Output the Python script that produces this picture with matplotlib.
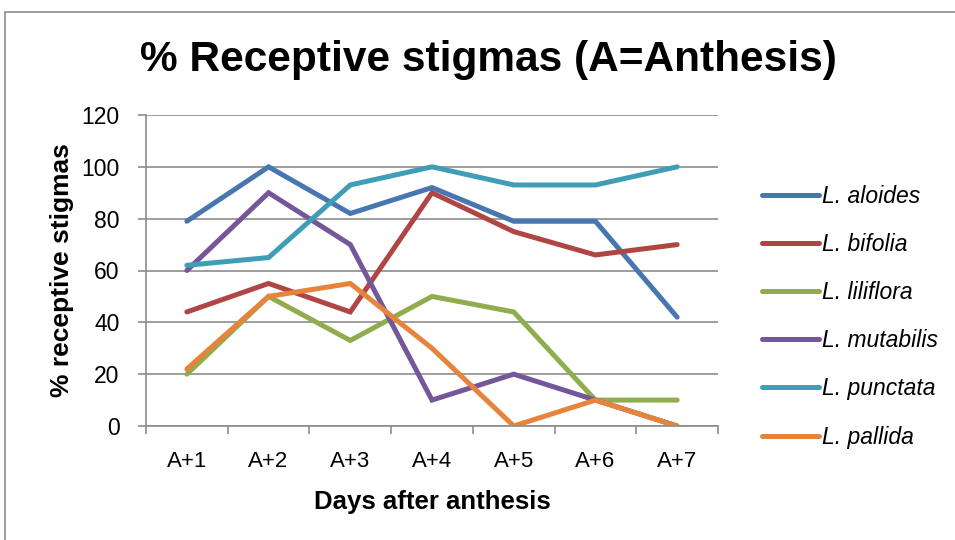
import matplotlib
matplotlib.use("Agg")
import matplotlib.pyplot as plt
from matplotlib.patches import Rectangle

plt.rcParams['font.family'] = ['Liberation Sans', 'DejaVu Sans']

days = ["A+1", "A+2", "A+3", "A+4", "A+5", "A+6", "A+7"]
species = ["L. aloides", "L. bifolia", "L. liliflora", "L. mutabilis", "L. punctata", "L. pallida"]
aloides = [79, 100, 82, 92, 79, 79, 42]
bifolia = [44, 55, 44, 90, 75, 66, 70]
liliflora = [20, 50, 33, 50, 44, 10, 10]
mutabilis = [60, 90, 70, 10, 20, 10, 0]
punctata = [62, 65, 93, 100, 93, 93, 100]
pallida = [22, 50, 55, 30, 0, 10, 0]
y_ticks = [0, 20, 40, 60, 80, 100, 120]

series = [aloides, bifolia, liliflora, mutabilis, punctata, pallida]
colors = ["#4776B0", "#B04643", "#8FAD4C", "#735799", "#409DB6", "#E6843C"]

W, H = 955, 540
fig = plt.figure(figsize=(W / 100, H / 100), dpi=100)
fig.patch.set_facecolor("white")

# outer chart frame
fig.patches.append(Rectangle((5 / W, -0.1), 1.2, 1 - 12 / H + 0.1,
                             transform=fig.transFigure, fill=False,
                             edgecolor="#8C8C8C", linewidth=1.2))

ax = fig.add_axes([146 / W, 1 - 426 / H, (718 - 146) / W, (426 - 115) / H])
x = list(range(1, len(days) + 1))
for vals, name, c in zip(series, species, colors):
    ax.plot(x, vals, color=c, linewidth=3.6, solid_capstyle="round",
            solid_joinstyle="miter", label=name)

ax.set_xlim(0.5, len(days) + 0.5)
ax.set_ylim(0, 120)
ax.set_yticks(y_ticks)
ax.set_yticklabels([str(v) for v in y_ticks], fontsize=16.5)
ax.set_xticks(x)
ax.set_xticklabels(days, fontsize=16)
ax.set_xticks([i + 0.5 for i in range(0, len(days) + 1)], minor=True)
ax.tick_params(axis="x", which="major", length=0, pad=18)
ax.tick_params(axis="x", which="minor", length=6, color="#8C8C8C", width=1.2)
ax.tick_params(axis="y", length=6, color="#8C8C8C", width=1.2, pad=13)
ax.grid(axis="y", color="#8C8C8C", linewidth=1.2)
ax.set_axisbelow(True)
for s in ["top", "right"]:
    ax.spines[s].set_visible(False)
for s in ["left", "bottom"]:
    ax.spines[s].set_color("#8C8C8C")
    ax.spines[s].set_linewidth(1.2)

ax.set_xlabel("Days after anthesis", fontsize=18.5, fontweight="bold", labelpad=13)
ax.set_ylabel("% receptive stigmas", fontsize=19, fontweight="bold", labelpad=5)

fig.text(488 / W, 1 - 60 / H, "% Receptive stigmas (A=Anthesis)",
         ha="center", va="center", fontsize=30.5, fontweight="bold")

leg = ax.legend(loc="upper left", bbox_to_anchor=(741 / W, 1 - 164 / H),
                bbox_transform=fig.transFigure, frameon=False,
                handlelength=2.5, handletextpad=0.15, labelspacing=1.1,
                prop={"style": "italic", "size": 16.5})

fig.savefig("out.png", dpi=100)
